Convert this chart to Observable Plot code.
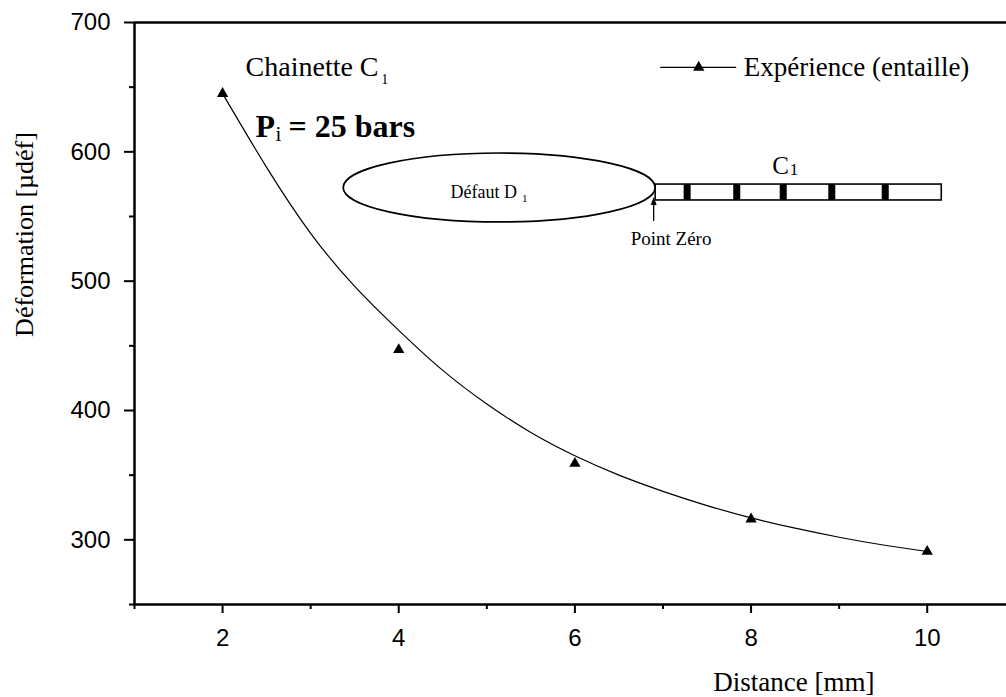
<!DOCTYPE html>
<html>
<head>
<meta charset="utf-8">
<script src="https://cdn.jsdelivr.net/npm/d3@7"></script>
<script src="https://cdn.jsdelivr.net/npm/@observablehq/plot@0.6"></script>
<style>
  html, body { margin: 0; padding: 0; background: #fff; }
  #chart svg { display: block; }
  #chart g[aria-label$="axis tick"], #chart g[aria-label$="axis tick"] path {
    stroke: #000; stroke-opacity: 1; stroke-width: 2px;
  }
</style>
</head>
<body>
<div id="chart"></div>
<script>
// ---- Data ----
const distances = [2, 4, 6, 8, 10];                 // Distance [mm]
const deformations = [645, 447, 359, 316, 291];     // Déformation [µdéf], measured points
// Fitted curve drawn through the measurements (values read from the picture)
const fitDistances = [2, 2.5, 3, 3.5, 4, 4.5, 5, 5.5, 6, 6.5, 7, 7.5, 8, 8.5, 9, 9.5, 10];
const fitDeformations = [645, 588, 537, 496, 462, 431, 405, 383, 365, 350, 337.5, 326.5, 317, 309, 302, 296, 291];

const xMajorTicks = [2, 4, 6, 8, 10];
const xMinorTicks = [1, 3, 5, 7, 9];
const yMajorTicks = [300, 400, 500, 600, 700];
const yMinorTicks = [250, 350, 450, 550, 650];

const xTitle = "Distance [mm]";
const yTitle = "Déformation [µdéf]";
const seriesLabel = "Expérience (entaille)";
const chainLabel = "Chainette C";
const pressureLabel = "= 25 bars";
const defectLabel = "Défaut D";
const zeroLabel = "Point Zéro";
const chainShortLabel = "C";

// ---- Build tables ----
const points = distances.map((d, i) => ({x: d, y: deformations[i]}));
const fit = fitDistances.map((d, i) => ({x: d, y: fitDeformations[i]}));

const SERIF = "'Liberation Serif', 'Times New Roman', serif";
const SANS = "'Liberation Sans', Arial, sans-serif";

function note(t, x, y, opts = {}) {
  return Plot.text([{t, x, y}], {
    x: "x", y: "y", text: "t",
    textAnchor: "start", lineAnchor: "bottom",
    fill: "black", fontFamily: SERIF, ...opts
  });
}

// Schematic (defect ellipse, gauge chain, zero-point arrow), anchored on the scales
function diagram(index, scales) {
  const X = scales.x, Y = scales.y;
  const g = d3.create("svg:g").attr("stroke", "black");
  const cx = X(5.146), cy = Y(572.05);
  g.append("ellipse")
    .attr("cx", cx).attr("cy", cy)
    .attr("rx", X(6.917) - cx).attr("ry", Y(545.4) - cy)
    .attr("fill", "none").attr("stroke-width", 1.7);
  const bx1 = X(6.917), bx2 = X(10.165), by1 = Y(574.7), by2 = Y(562.4);
  g.append("rect")
    .attr("x", bx1).attr("y", by1)
    .attr("width", bx2 - bx1).attr("height", by2 - by1)
    .attr("fill", "white").attr("stroke-width", 1.6);
  for (const s of [7.280, 7.843, 8.371, 8.922, 9.529]) {
    g.append("rect")
      .attr("x", X(s) - 3.5).attr("y", by1)
      .attr("width", 7).attr("height", by2 - by1)
      .attr("fill", "black").attr("stroke", "none");
  }
  const ax = X(6.90), ay1 = Y(546.1), ayTip = Y(564.7);
  g.append("line")
    .attr("x1", ax).attr("x2", ax)
    .attr("y1", ay1).attr("y2", ayTip + 6)
    .attr("stroke-width", 1.3);
  g.append("path")
    .attr("d", `M${ax},${ayTip} L${ax - 3},${ayTip + 8} L${ax + 3},${ayTip + 8} Z`)
    .attr("fill", "black").attr("stroke", "none");
  return g.node();
}

const chart = Plot.plot({
  width: 1006,
  height: 697,
  marginLeft: 134,
  marginRight: 0,
  marginTop: 22,
  marginBottom: 93,
  style: {background: "white", color: "black", fontFamily: SERIF, overflow: "visible"},
  x: {domain: [1, 10.9], label: null},
  y: {domain: [250, 700], label: null},
  marks: [
    // frame lines
    Plot.ruleY([700], {stroke: "black", strokeWidth: 2.5}),
    Plot.ruleY([250], {stroke: "black", strokeWidth: 2.5}),
    Plot.ruleX([1], {stroke: "black", strokeWidth: 2.5}),
    // axes
    Plot.axisX({ticks: xMajorTicks, anchor: "bottom", tickSize: 9, tickPadding: 15,
      fontSize: 24, fontFamily: SANS, stroke: "black", strokeWidth: 2, label: null, tickFormat: d => String(d)}),
    Plot.axisX({ticks: xMinorTicks, anchor: "bottom", tickSize: 5,
      stroke: "black", strokeWidth: 2, label: null, tickFormat: () => null}),
    Plot.axisY({ticks: yMajorTicks, anchor: "left", tickSize: 10, tickPadding: 14,
      fontSize: 24, fontFamily: SANS, stroke: "black", strokeWidth: 2, label: null, tickFormat: d => String(d)}),
    Plot.axisY({ticks: yMinorTicks, anchor: "left", tickSize: 5,
      stroke: "black", strokeWidth: 2, label: null, tickFormat: () => null}),
    // axis titles
    note(xTitle, 8.485, 183.5, {textAnchor: "middle", fontSize: 27}),
    note(yTitle, -0.147, 536.1, {textAnchor: "middle", rotate: -90, fontSize: 26}),
    // schematic
    diagram,
    note(defectLabel, 4.589, 564.5, {fontSize: 18}),
    note("1", 5.40, 561.2, {fontSize: 11}),
    note(zeroLabel, 6.633, 528.3, {fontSize: 19}),
    note(chainShortLabel, 8.240, 582.5, {fontSize: 25}),
    note("1", 8.440, 582.1, {fontSize: 17}),
    // annotations
    note(chainLabel, 2.261, 659.0, {fontSize: 28}),
    note("1", 3.80, 652.8, {fontSize: 14}),
    note("P", 2.374, 611.1, {fontSize: 32, fontWeight: "bold"}),
    note("i", 2.601, 608.0, {fontSize: 21}),
    note(pressureLabel, 2.749, 611.1, {fontSize: 32, fontWeight: "bold"}),
    // legend
    Plot.line([{x: 6.974, y: 665.3}, {x: 7.826, y: 665.3}], {x: "x", y: "y", stroke: "black", strokeWidth: 1.2}),
    Plot.dot([{x: 7.406, y: 665.3}], {x: "x", y: "y", symbol: "triangle", r: 4.2, fill: "black", stroke: "none"}),
    note(seriesLabel, 7.917, 659.0, {fontSize: 27}),
    // data
    Plot.line(fit, {x: "x", y: "y", curve: "natural", stroke: "black", strokeWidth: 1.2}),
    Plot.dot(points, {x: "x", y: "y", symbol: "triangle", r: 4.2, fill: "black", stroke: "none"})
  ]
});

document.getElementById("chart").appendChild(chart);
</script>
</body>
</html>
